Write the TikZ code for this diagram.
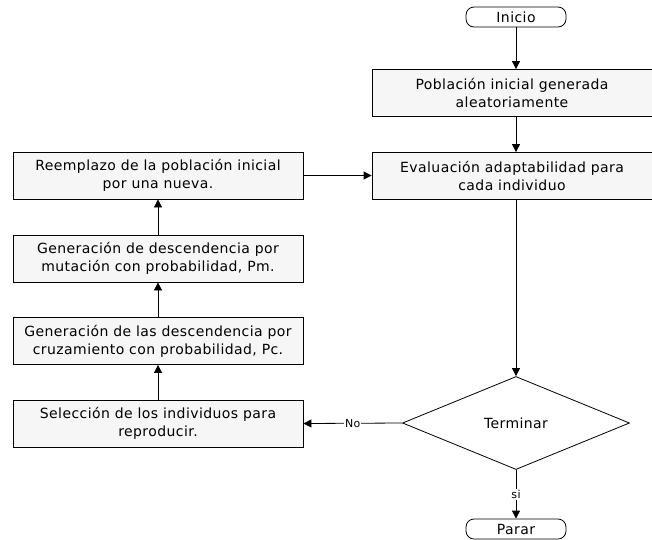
\documentclass[tikz,border=0pt]{standalone}
\usepackage{fontspec}
\setmainfont[LetterSpace=3]{DejaVu Sans}
\usetikzlibrary{shapes.geometric,arrows.meta}

\tikzset{
  proceso/.style={draw, thick, fill=gray!7, minimum width=280pt, minimum height=47pt,
    align=center, inner sep=2pt, font=\fontsize{14}{18}\selectfont},
  izq/.style={proceso, minimum width=290pt},
  terminal/.style={draw, thick, rounded corners=8pt, minimum width=100pt, minimum height=20pt,
    inner sep=0pt, font=\fontsize{14}{16}\selectfont},
  decision/.style={draw, thick, diamond, minimum width=227pt, minimum height=93pt,
    inner sep=0pt, font=\fontsize{14}{16}\selectfont},
  flecha/.style={thick, -{Triangle[width=8pt,length=8pt]}},
  etiq/.style={fill=white, inner sep=1pt, font=\fontsize{11}{13}\selectfont}
}

\begin{document}
\begin{tikzpicture}[x=1pt, y=-1pt, line cap=round]
\useasboundingbox (0,0) rectangle (652,539);
% columna derecha
\node [terminal] (inicio) at (516,17) {Inicio};
\node [proceso] (poblacion) at (512,93) {Población inicial generada\\aleatoriamente};
\node [proceso] (evaluacion) at (512,176) {Evaluación adaptabilidad para\\cada individuo};
\node [decision] (terminar) at (516,423) {Terminar};
\node [terminal] (parar) at (516,529) {Parar};
% columna izquierda
\node [izq] (reemplazo) at (158,175.5) {Reemplazo de la población inicial\\por una nueva.};
\node [izq] (mutacion) at (158,258.5) {Generación de descendencia por\\mutación con probabilidad, Pm.};
\node [izq] (cruce) at (158,341) {Generación de las descendencia por\\cruzamiento con probabilidad, Pc.};
\node [izq] (seleccion) at (158,423.5) {Selección de los individuos para\\reproducir.};

\draw [flecha] (inicio) -- (inicio |- poblacion.north);
\draw [flecha] (inicio |- poblacion.south) -- (inicio |- evaluacion.north);
\draw [flecha] (inicio |- evaluacion.south) -- (terminar.north);
\draw [flecha] (terminar.south) -- node [etiq] {si} (parar.north);
\draw [flecha] (terminar.west) -- node [etiq] {No} (seleccion.east);
\draw [flecha] (seleccion) -- (cruce);
\draw [flecha] (cruce) -- (mutacion);
\draw [flecha] (mutacion) -- (reemplazo);
\draw [flecha] (reemplazo.east) -- (evaluacion.west |- reemplazo.east);
\end{tikzpicture}
\end{document}
